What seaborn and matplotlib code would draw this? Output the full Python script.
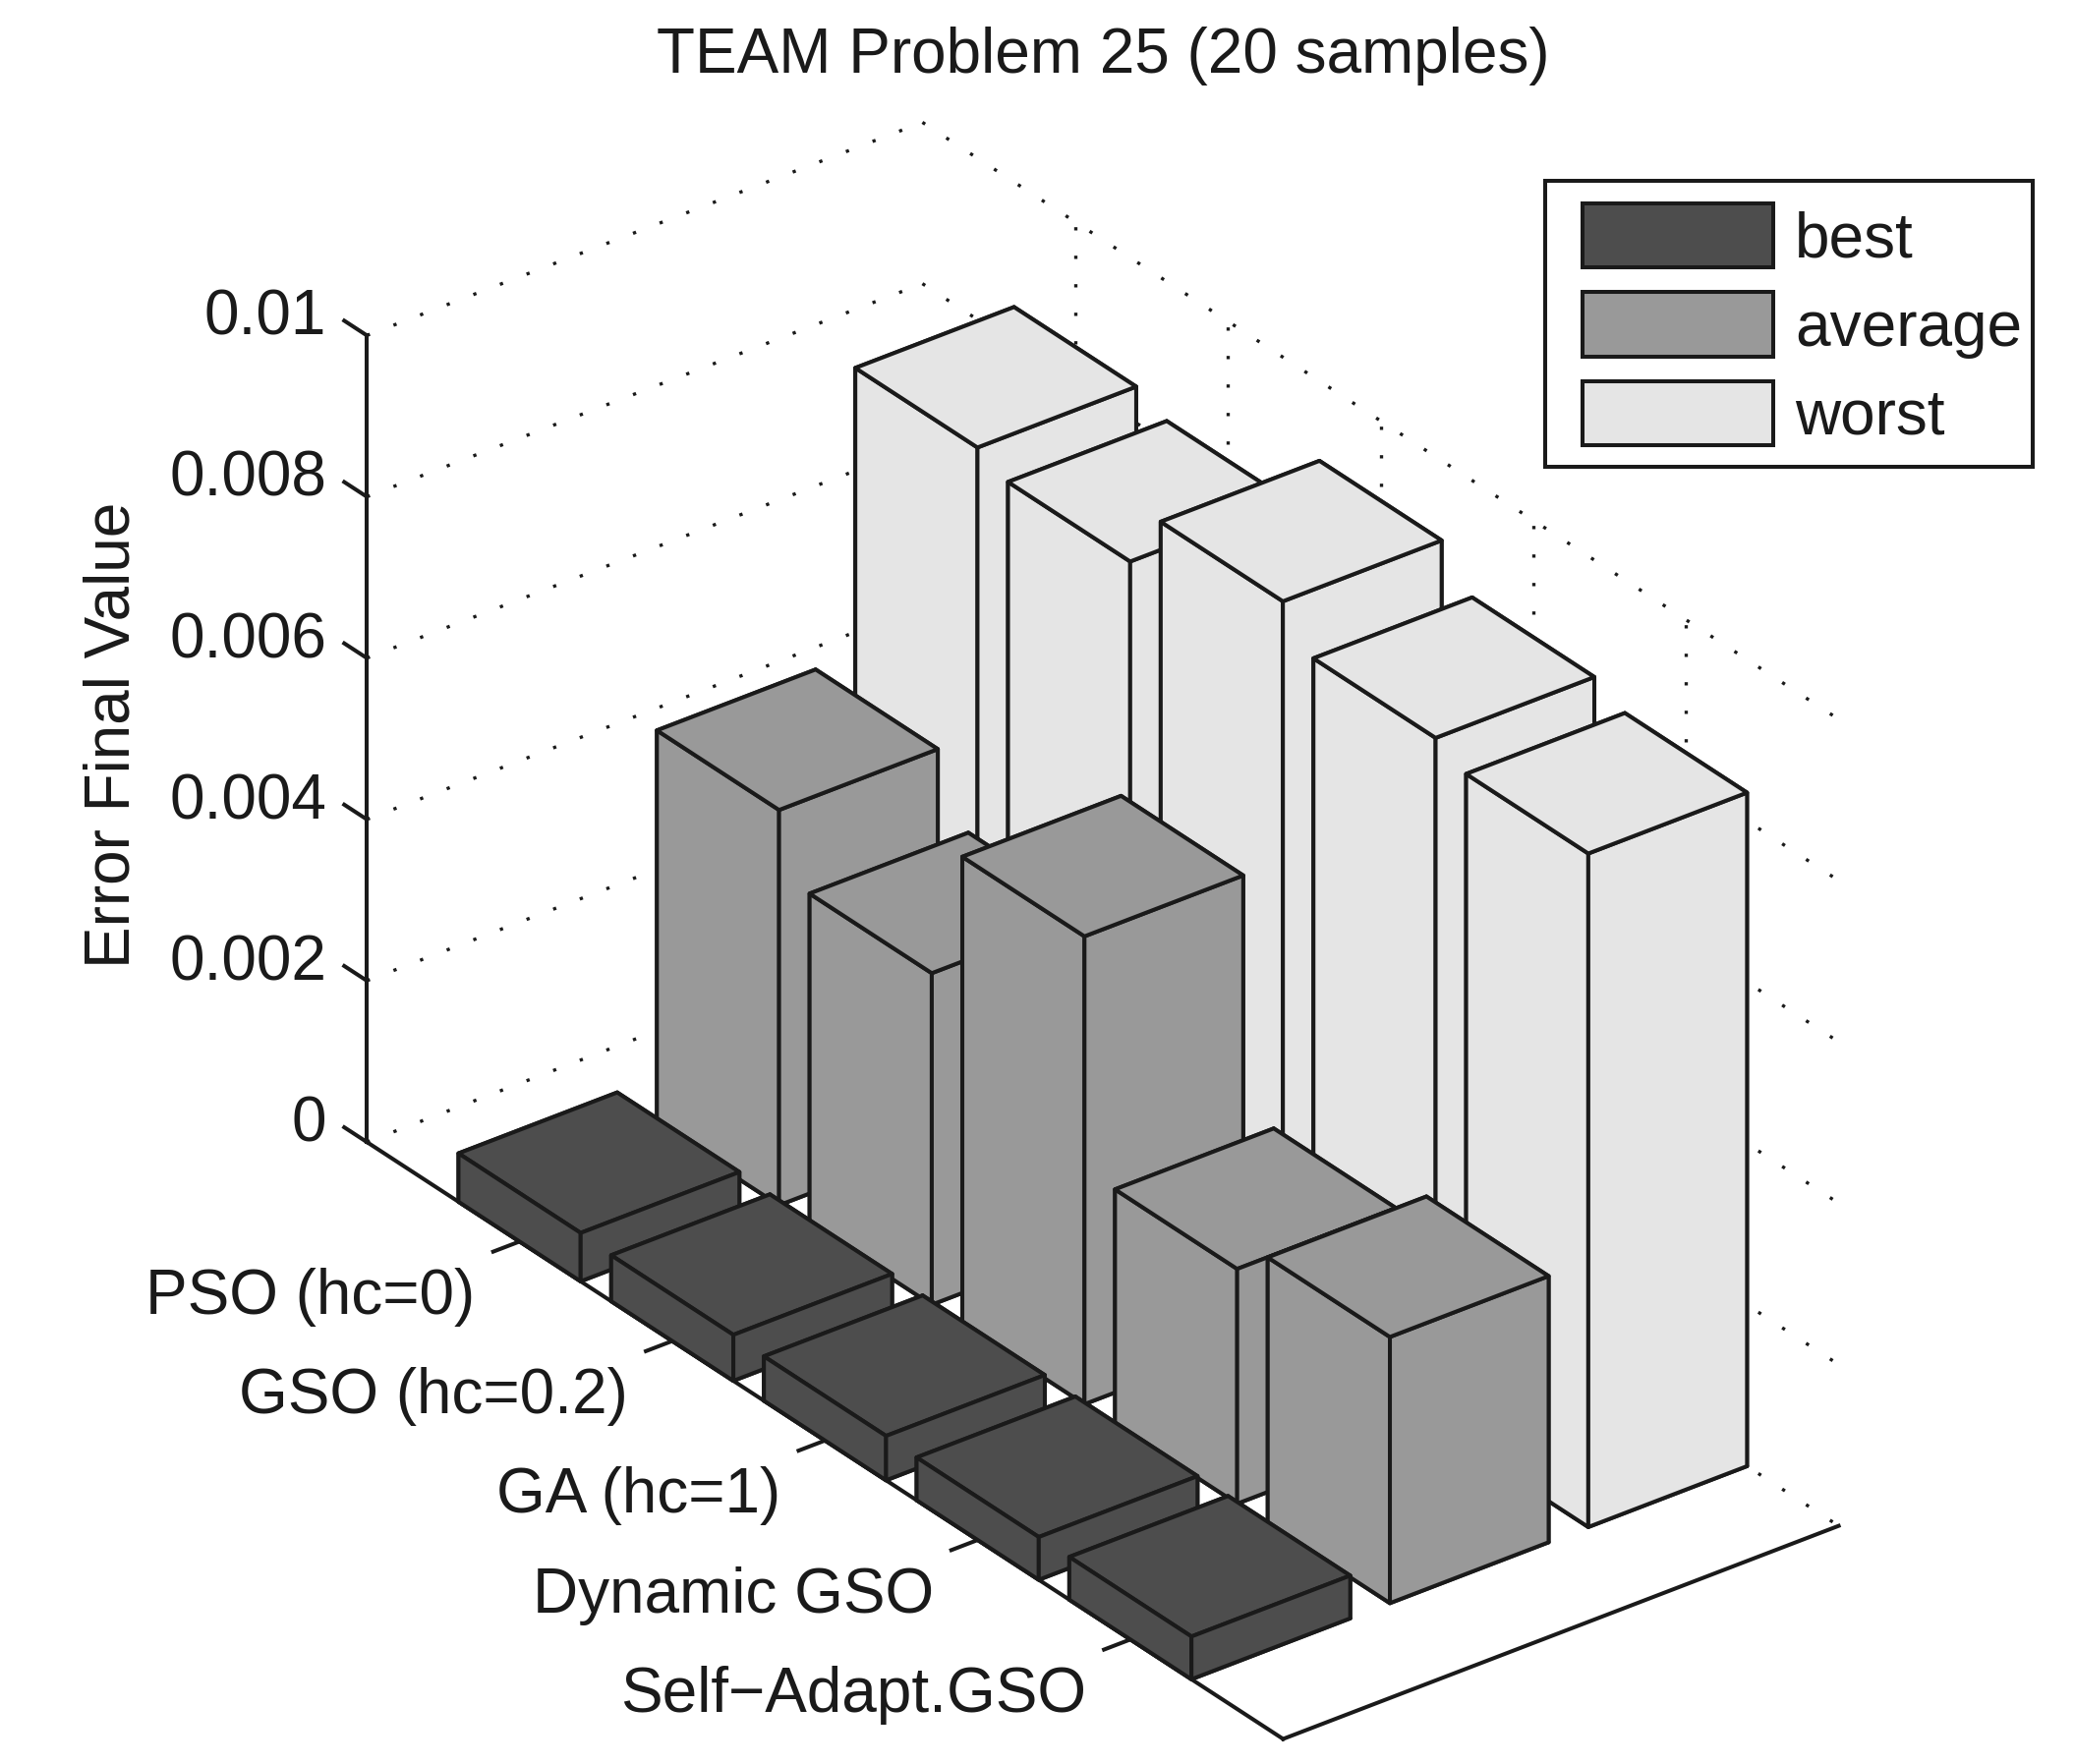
import matplotlib
matplotlib.use("Agg")
import matplotlib.pyplot as plt
from matplotlib.patches import Patch, Rectangle
from mpl_toolkits.mplot3d import proj3d
import seaborn as sns

methods = ["PSO (hc=0)", "GSO (hc=0.2)", "GA (hc=1)", "Dynamic GSO", "Self\u2212Adapt.GSO"]
series_names = ["best", "average", "worst"]
best = [0.00060, 0.00057, 0.00055, 0.00053, 0.00053]
average = [0.00490, 0.00411, 0.00580, 0.00291, 0.00330]
worst = [0.00845, 0.00827, 0.00901, 0.00855, 0.00835]
z_ticks = [0, 0.002, 0.004, 0.006, 0.008, 0.01]
z_labels = ["0", "0.002", "0.004", "0.006", "0.008", "0.01"]

sns.set_theme(style="white", font="Liberation Sans")
colors = sns.color_palette(["#4d4d4d", "#999999", "#e5e5e5"])

W, H = 2110, 1795
FS = 46
LW = 2.9

fig = plt.figure(figsize=(W / 100, H / 100), dpi=100)
S = 1880
ax = fig.add_axes([156.5 / W, -117.4 / H, S / W, S / H], projection="3d")
ax.computed_zorder = False
ax.set_proj_type("ortho")
ax.view_init(elev=30, azim=-127.5)
ax.set_box_aspect((712.6, 1531.6, 948))
ax.set_axis_off()

x0, x1 = 0.6, 3.4
y0, y1 = 0, 6
ztop = z_ticks[-1]
ax.set_xlim(x0, x1)
ax.set_ylim(y1, y0)
ax.set_zlim(0, ztop)


def label_at(x, y, z, s):
    # place plain 2d text at the projected spot of a 3d point
    px, py, _ = proj3d.proj_transform(x, y, z, ax.get_proj())
    ax.text2D(px, py, s, transform=ax.transData, ha="right", va="center",
              fontsize=FS, color="k", clip_on=False)


# dotted grid on the two back walls
dots = dict(color="k", lw=2.4, ls=(0, (1, 7.7)), dash_capstyle="butt", zorder=1)
for z in z_ticks:
    ax.plot([x0, x1], [y0, y0], [z, z], **dots)
    ax.plot([x1, x1], [y0, y1], [z, z], **dots)
for j in range(1, 6):
    ax.plot([x1, x1], [j, j], [0, ztop], **dots)

# axis lines and ticks
solid = dict(color="k", lw=LW, zorder=2, solid_capstyle="projecting")
ax.plot([x0, x0], [y0, y0], [0, ztop], **solid)
ax.plot([x0, x0], [y0, y1], [0, 0], **solid)
ax.plot([x0, x1], [y1, y1], [0, 0], **solid)
for z, lab in zip(z_ticks, z_labels):
    ax.plot([x0, x0], [y0, -0.148], [z, z], **solid)
    label_at(x0, -0.263, z - 0.00011, lab)
for j, name in enumerate(methods, start=1):
    ax.plot([x0, x0 - 0.133], [j, j], [0, 0], **solid)
    label_at(x0 - 0.411, j + 0.245, 0, name)

# bars, back to front
order = 10
for i, vals in reversed(list(enumerate([best, average, worst]))):
    for j, v in enumerate(vals):
        ax.bar3d(i + 1 - 0.4, j + 1 - 0.4, 0, 0.8, 0.8, v, color=colors[i],
                 edgecolor="k", linewidth=LW, shade=False, zorder=order)
        order += 1

ax.set_xlim(x0, x1)
ax.set_ylim(y1, y0)
ax.set_zlim(0, ztop)

fig.text(834 * 1.3457 / W, 1 - 42.5 * 1.3457 / H, "TEAM Problem 25 (20 samples)",
         ha="center", va="center", fontsize=FS, color="k")
fig.text(85 * 1.3457 / W, 1 - 556 * 1.3457 / H, "Error Final Value", rotation=90,
         ha="center", va="center", fontsize=FS, color="k")

# legend with a separate frame so the padding can differ per side
fig.add_artist(Rectangle((1572 / W, 1 - 475 / H), 496 / W, 291 / H, transform=fig.transFigure,
                         facecolor="white", edgecolor="k", lw=LW, zorder=50))
handles = [Patch(facecolor=c, edgecolor="k", lw=LW) for c in colors]
leg = fig.legend(handles, series_names, loc="upper left", bbox_to_anchor=(1610 / W, 1 - 207 / H),
                 frameon=False, fontsize=FS, borderpad=0, borderaxespad=0, labelcolor="k",
                 handlelength=3.03, handleheight=1.2, handletextpad=0.35, labelspacing=0.36)
leg.set_zorder(60)

fig.savefig("out.png", dpi=100)
